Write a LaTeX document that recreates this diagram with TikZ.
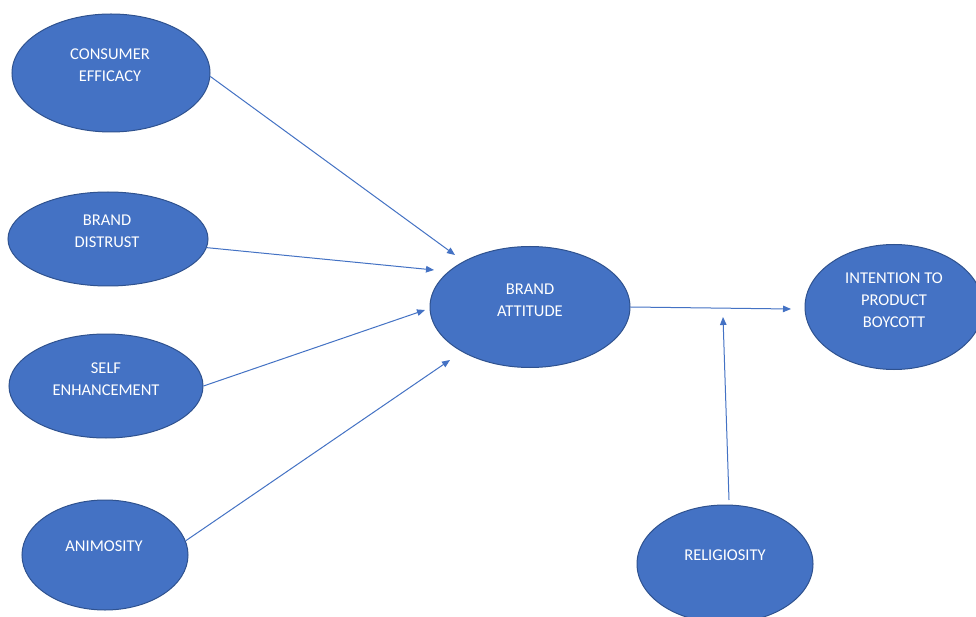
\documentclass[tikz,border=0pt]{standalone}
\usepackage{fontspec}
\setmainfont{Carlito}
\usetikzlibrary{arrows.meta,shapes.geometric}
\definecolor{bfill}{HTML}{4472C4}
\definecolor{bedge}{HTML}{2F528F}
\begin{document}
\begin{tikzpicture}[x=1pt,y=-1pt,
  bub/.style={ellipse,draw=bedge,fill=bfill,line width=1pt,inner sep=0pt},
  lbl/.style={text=white,align=center,font=\fontsize{16.5}{22}\selectfont,inner sep=0pt},
  conn/.style={draw=bfill,line width=1pt,-{Triangle[length=8pt,width=6.5pt]}}]
\useasboundingbox (0,0) rectangle (976,617);
\clip (0,0) rectangle (976,617);
\fill[white] (0,0) rectangle (976,617);
% ellipses
\node[bub,minimum width=198pt,minimum height=118pt] (ce) at (111,73) {};
\node[bub,minimum width=200pt,minimum height=94pt] (bd) at (108,239) {};
\node[bub,minimum width=194pt,minimum height=104pt] (se) at (106,386) {};
\node[bub,minimum width=166pt,minimum height=110pt] (an) at (105,555) {};
\node[bub,minimum width=200pt,minimum height=121pt] (ba) at (530,307) {};
\node[bub,minimum width=178pt,minimum height=125pt] (int) at (894,307) {};
\node[bub,minimum width=176pt,minimum height=118pt] (rel) at (725,564) {};
% labels
\node[lbl] (ceT) at (110,65.5) {CONSUMER\\EFFICACY};
\node[lbl] (bdT) at (107,231.5) {BRAND\\DISTRUST};
\node[lbl] (seT) at (106,379) {SELF\\ENHANCEMENT};
\node[lbl] (anT) at (104,546) {ANIMOSITY};
\node[lbl] (baT) at (530,300.5) {BRAND\\ATTITUDE};
\node[lbl] (intT) at (894,300) {INTENTION TO\\PRODUCT\\BOYCOTT};
\node[lbl] (relT) at (725,555) {RELIGIOSITY};
% arrow tips
\coordinate (tCE) at (455,255);
\coordinate (tBD) at (434,270);
\coordinate (tSE) at (425,310);
\coordinate (tAN) at (450,360);
\coordinate (tBA) at (791,309);
\coordinate (sREL) at (729,500);
\coordinate (tREL) at (723,317);
% connectors
\draw[conn] (ce.-2) -- (tCE);
\draw[conn] (bd.-5) -- (tBD);
\draw[conn] (se.east) -- (tSE);
\draw[conn] (an.10) -- (tAN);
\draw[conn] (ba.east) -- (tBA);
\draw[conn] (sREL) -- (tREL);
\end{tikzpicture}
\end{document}
